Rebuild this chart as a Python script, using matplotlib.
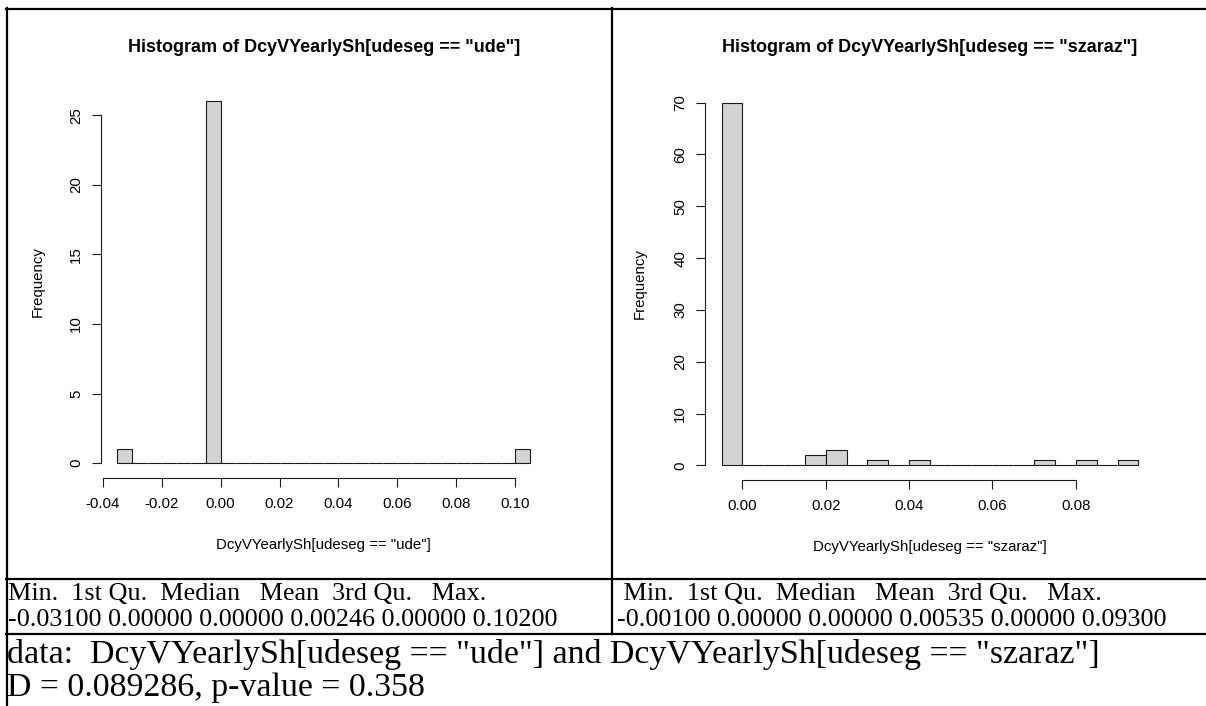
import numpy as np
import matplotlib
matplotlib.use("Agg")
import matplotlib.pyplot as plt
from matplotlib.lines import Line2D

# ---------------- data ----------------
bin_width = 0.005
ude_start = -0.035
ude_counts = [1, 0, 0, 0, 0, 0, 26, 0, 0, 0, 0, 0, 0, 0,
              0, 0, 0, 0, 0, 0, 0, 0, 0, 0, 0, 0, 0, 1]
szaraz_start = -0.005
szaraz_counts = [70, 0, 0, 0, 2, 3, 0, 1, 0, 1,
                 0, 0, 0, 0, 0, 1, 0, 1, 0, 1]

ude_xticks = [-0.04, -0.02, 0.00, 0.02, 0.04, 0.06, 0.08, 0.10]
ude_yticks = [0, 5, 10, 15, 20, 25]
szaraz_xticks = [0.00, 0.02, 0.04, 0.06, 0.08]
szaraz_yticks = [0, 10, 20, 30, 40, 50, 60, 70]

ude_title = 'Histogram of DcyVYearlySh[udeseg == "ude"]'
szaraz_title = 'Histogram of DcyVYearlySh[udeseg == "szaraz"]'
ude_xlabel = 'DcyVYearlySh[udeseg == "ude"]'
szaraz_xlabel = 'DcyVYearlySh[udeseg == "szaraz"]'
ylabel = "Frequency"

summary_header_left = "Min.  1st Qu.  Median   Mean  3rd Qu.   Max."
summary_values_left = "-0.03100 0.00000 0.00000 0.00246 0.00000 0.10200"
summary_header_right = " Min.  1st Qu.  Median   Mean  3rd Qu.   Max."
summary_values_right = "-0.00100 0.00000 0.00000 0.00535 0.00000 0.09300"
test_line1 = 'data:  DcyVYearlySh[udeseg == "ude"] and DcyVYearlySh[udeseg == "szaraz"]'
test_line2 = "D = 0.089286, p-value = 0.358"

# ---------------- layout ----------------
W, H = 1206, 706
fig = plt.figure(figsize=(W / 100, H / 100), dpi=100)
fig.patch.set_facecolor("white")

SANS = ["Liberation Sans", "DejaVu Sans"]
SERIF = ["Liberation Serif", "DejaVu Serif"]


def fx(x):
    return x / W


def fy(y):
    return 1 - y / H


def axes_px(x0, y0, x1, y1):
    return fig.add_axes([fx(x0), fy(y1), (x1 - x0) / W, (y1 - y0) / H])


def r_hist(ax, start, counts, xticks, yticks):
    n = len(counts)
    edges = start + bin_width * np.arange(n + 1)
    ax.bar(edges[:-1], counts, width=bin_width, align="edge",
           color="#d3d3d3", edgecolor="#1a1a1a", linewidth=0.8)
    xr = edges[-1] - edges[0]
    ax.set_xlim(edges[0] - 0.04 * xr, edges[-1] + 0.04 * xr)
    yr = max(counts)
    ax.set_ylim(-0.04 * yr, yr * 1.04)
    for s in ("top", "right"):
        ax.spines[s].set_visible(False)
    ax.spines["left"].set_bounds(yticks[0], yticks[-1])
    ax.spines["bottom"].set_bounds(xticks[0], xticks[-1])
    for s in ("left", "bottom"):
        ax.spines[s].set_linewidth(0.8)
        ax.spines[s].set_color("#1a1a1a")
    ax.set_xticks(xticks)
    ax.set_xticklabels([f"{v:.2f}" for v in xticks], fontfamily=SANS, fontsize=10.8)
    ax.set_yticks(yticks)
    ax.set_yticklabels([str(v) for v in yticks], fontfamily=SANS, fontsize=10.8,
                       rotation=90, va="center")
    ax.tick_params(axis="x", length=6.2, width=0.8, pad=7.5, color="#1a1a1a")
    ax.tick_params(axis="y", length=6.2, width=0.8, pad=6.5, color="#1a1a1a")
    ax.patch.set_alpha(0)


# left histogram
axL = axes_px(101, 87, 546.5, 477.5)
r_hist(axL, ude_start, ude_counts, ude_xticks, ude_yticks)
# right histogram
axR = axes_px(705, 88, 1155, 480)
r_hist(axR, szaraz_start, szaraz_counts, szaraz_xticks, szaraz_yticks)

# titles and axis labels
fig.text(fx((101 + 546.5) / 2), fy(47), ude_title, ha="center", va="center",
         fontfamily=SANS, fontsize=13, fontweight="bold")
fig.text(fx((705 + 1155) / 2), fy(47), szaraz_title, ha="center", va="center",
         fontfamily=SANS, fontsize=13, fontweight="bold")
fig.text(fx((101 + 546.5) / 2), fy(545), ude_xlabel, ha="center", va="center",
         fontfamily=SANS, fontsize=10.8)
fig.text(fx((705 + 1155) / 2), fy(547), szaraz_xlabel, ha="center", va="center",
         fontfamily=SANS, fontsize=10.8)
fig.text(fx(38), fy(282), ylabel, ha="center", va="center", rotation=90,
         fontfamily=SANS, fontsize=10.8)
fig.text(fx(640), fy(284), ylabel, ha="center", va="center", rotation=90,
         fontfamily=SANS, fontsize=10.8)

# summary texts
fs_sum = 18.8
fig.text(fx(8), fy(594), summary_header_left, ha="left", va="center",
         fontfamily=SERIF, fontsize=fs_sum)
fig.text(fx(8), fy(620), summary_values_left, ha="left", va="center",
         fontfamily=SERIF, fontsize=fs_sum)
fig.text(fx(617), fy(594), summary_header_right, ha="left", va="center",
         fontfamily=SERIF, fontsize=fs_sum)
fig.text(fx(617), fy(620), summary_values_right, ha="left", va="center",
         fontfamily=SERIF, fontsize=fs_sum)

fs_test = 24.4
fig.text(fx(7), fy(654), test_line1, ha="left", va="center",
         fontfamily=SERIF, fontsize=fs_test)
fig.text(fx(7), fy(688), test_line2, ha="left", va="center",
         fontfamily=SERIF, fontsize=fs_test)

# table frame lines
lw = 1.6
frame = [
    ((6, 1206), (8.5, 8.5)),
    ((6.5, 6.5), (8, 706)),
    ((612, 612), (8, 634)),
    ((6, 1206), (579, 579)),
    ((6, 1206), (634, 634)),
]
for xs, ys in frame:
    fig.add_artist(Line2D([fx(xs[0]), fx(xs[1])], [fy(ys[0]), fy(ys[1])],
                          transform=fig.transFigure, color="black", linewidth=lw))

fig.savefig("out.png", dpi=100, facecolor="white")
